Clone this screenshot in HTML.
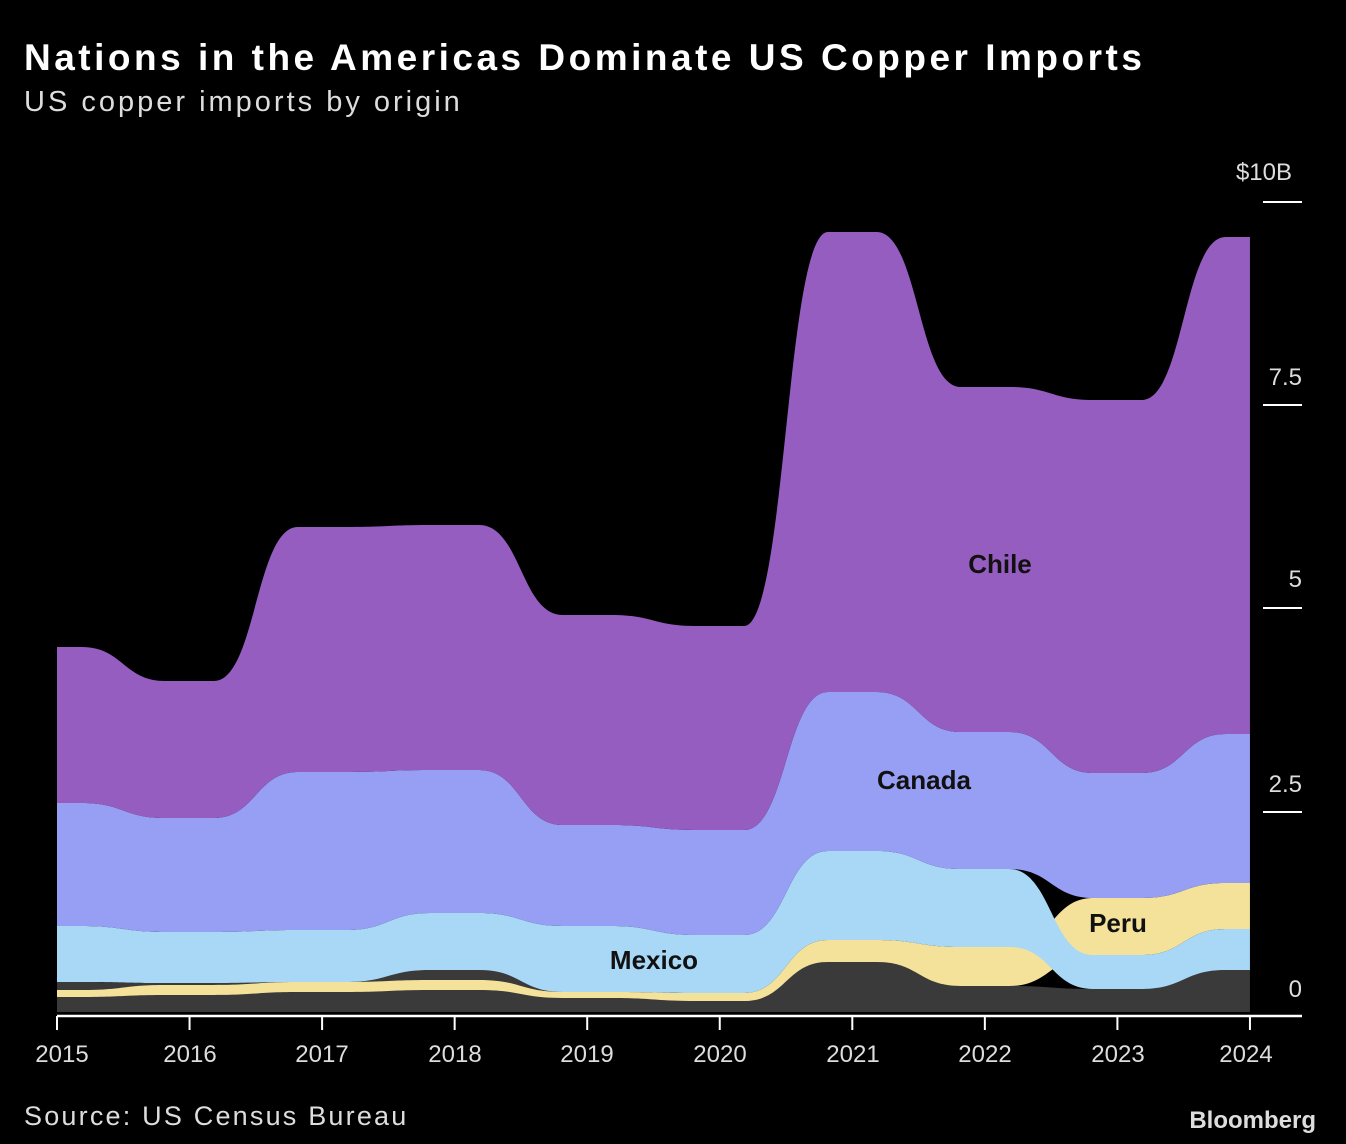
<!DOCTYPE html>
<html><head><meta charset="utf-8"><style>
body{margin:0;background:#000;width:1346px;height:1144px;overflow:hidden;font-family:"Liberation Sans",sans-serif;color:#fff}
</style></head><body>
<svg id="s" width="1346" height="1144" xmlns="http://www.w3.org/2000/svg" style="position:absolute;left:0;top:0">
<text x="24" y="70" font-size="37" font-weight="bold" fill="#fff" letter-spacing="3.5" font-family="Liberation Sans,sans-serif">Nations in the Americas Dominate US Copper Imports</text>
<text x="24" y="111" font-size="29" fill="#ddd" letter-spacing="3" font-family="Liberation Sans,sans-serif">US copper imports by origin</text>
<g id="areas"></g>
<g font-family="Liberation Sans,sans-serif" font-size="26" font-weight="bold" fill="#111">
<text x="1000" y="573" text-anchor="middle">Chile</text>
<text x="924" y="789" text-anchor="middle">Canada</text>
<text x="654" y="969" text-anchor="middle">Mexico</text>
<text x="1118" y="932" text-anchor="middle">Peru</text>
</g>
<line x1="57" y1="1016" x2="1302" y2="1016" stroke="#fff" stroke-width="2.5"/>
<g id="ticks" stroke="#fff" stroke-width="2"></g>
<g stroke="#fff" stroke-width="2">
<line x1="1263" y1="202" x2="1302" y2="202"/><line x1="1263" y1="405" x2="1302" y2="405"/>
<line x1="1263" y1="608" x2="1302" y2="608"/><line x1="1263" y1="812" x2="1302" y2="812"/>
</g>
<g font-family="Liberation Sans,sans-serif" font-size="24" fill="#ddd" text-anchor="end">
<text x="1292" y="180">$10B</text><text x="1302" y="385">7.5</text><text x="1302" y="587">5</text><text x="1302" y="792">2.5</text><text x="1302" y="997">0</text>
</g>
<g font-family="Liberation Sans,sans-serif" font-size="24" fill="#ddd" text-anchor="middle">
<text x="62" y="1062">2015</text><text x="190" y="1062">2016</text><text x="322" y="1062">2017</text><text x="455" y="1062">2018</text><text x="587" y="1062">2019</text><text x="720" y="1062">2020</text><text x="853" y="1062">2021</text><text x="985" y="1062">2022</text><text x="1118" y="1062">2023</text><text x="1246" y="1062">2024</text>
</g>
<text x="24" y="1125" font-size="27" fill="#ddd" letter-spacing="2.2" font-family="Liberation Sans,sans-serif">Source: US Census Bureau</text>
<text x="1316" y="1128" font-size="24" font-weight="bold" fill="#ddd" text-anchor="end" font-family="Liberation Sans,sans-serif">Bloomberg</text>
</svg>
<script>
var X=[];for(var i=0;i<10;i++)X.push(57+132.55*i);
function line(Y,rev){var p=[];var h=42;
 if(!rev){p.push([X[0],Y[0]]);for(var i=0;i<9;i++){var m=(X[i]+X[i+1])/2;p.push(["L",m-h,Y[i]]);p.push(["C",m,Y[i],m,Y[i+1],m+h,Y[i+1]]);}p.push(["L",X[9],Y[9]]);
  var s="M"+p[0][0]+","+p[0][1];for(var k=1;k<p.length;k++){var q=p[k];if(q[0]=="L")s+=" L"+q[1]+","+q[2];else s+=" C"+q[1]+","+q[2]+" "+q[3]+","+q[4]+" "+q[5]+","+q[6];}return s;}
 var s=" L"+X[9]+","+Y[9];for(var i=8;i>=0;i--){var m=(X[i]+X[i+1])/2;s+=" L"+(m+h)+","+Y[i+1]+" C"+m+","+Y[i+1]+" "+m+","+Y[i]+" "+(m-h)+","+Y[i];}s+=" L"+X[0]+","+Y[0]+" Z";return s;}
function band(t,b,c){return '<path d="'+line(t)+line(b,1)+'" fill="'+c+'"/>';}
var base=[1012,1012,1012,1012,1012,1012,1012,1012,1012,1012];
var grayT=[982,983,982,970,992,993,962,986,989,970];
var peruT=[990,985,982,980,992,993,940,947,898,883],peruB=[997,995,992,990,998,1001,962,986,955,929];
var mexT=[926,932,930,913,926,935,851,869,955,929],mexB=[982,983,982,970,992,993,940,947,989,970];
var canT=[803,818,772,770,825,830,692,732,773,734],canB=[926,932,930,913,926,935,851,869,898,883];
var chT=[647,681,527,525,615,626,232,387,400,237];
var h=band(grayT,base,"#3a3a3a")+band(peruT,peruB,"#f5e29a")+band(mexT,mexB,"#a8d8f6")+band(canT,canB,"#979ff5")+band(chT,canT,"#955dc0");
document.getElementById("areas").innerHTML=h;
var t="";for(var i=0;i<10;i++)t+='<line x1="'+X[i]+'" y1="1016" x2="'+X[i]+'" y2="1030"/>';
document.getElementById("ticks").innerHTML=t;
</script>
</body></html>
